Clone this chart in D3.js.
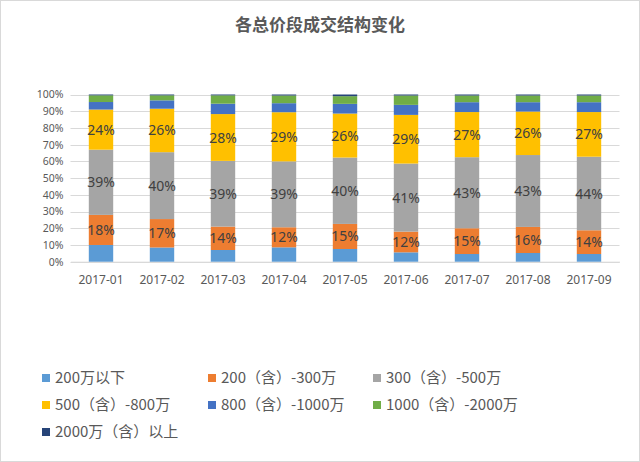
<!DOCTYPE html>
<html><head><meta charset="utf-8">
<script src="https://cdn.jsdelivr.net/npm/d3@7"></script>
<style>body{margin:0;background:#fff;} svg{display:block;font-family:"Noto Sans CJK SC","Noto Sans",sans-serif;}</style>
</head><body>
<svg id="c" width="640" height="462"></svg>
<script>
const months = ["2017-01","2017-02","2017-03","2017-04","2017-05","2017-06","2017-07","2017-08","2017-09"];
const seriesNames = ["200万以下","200（含）-300万","300（含）-500万","500（含）-800万","800（含）-1000万","1000（含）-2000万","2000万（含）以上"];
const s200below   = [10.0, 8.5, 7.0, 8.6, 7.6, 5.6, 4.6, 5.2, 4.6];
const s200to300   = [18.0, 17.0, 14.0, 12.0, 15.0, 12.4, 15.4, 15.6, 14.2];
const s300to500   = [39.0, 40.0, 39.3, 39.4, 39.7, 40.7, 42.5, 43.0, 44.0];
const s500to800   = [24.0, 26.0, 28.0, 29.4, 26.3, 29.1, 27.0, 26.0, 26.7];
const s800to1000  = [4.5, 5.0, 6.2, 5.4, 5.8, 6.0, 5.9, 5.6, 5.9];
const s1000to2000 = [4.0, 3.0, 5.0, 4.6, 4.6, 5.6, 4.0, 4.0, 4.0];
const s2000above  = [0.5, 0.5, 0.5, 0.6, 1.0, 0.6, 0.6, 0.6, 0.6];
const yTicks = [0,10,20,30,40,50,60,70,80,90,100];
const labeledSeries = [1,2,3];

const colors = ["#5B9BD5","#ED7D31","#A5A5A5","#FFC000","#4472C4","#70AD47","#264478"];
const allSeries = [s200below,s200to300,s300to500,s500to800,s800to1000,s1000to2000,s2000above];

const svg = d3.select("#c");
svg.append("rect").attr("x",0.5).attr("y",0.5).attr("width",639).attr("height",461)
  .attr("fill","#fff").attr("stroke","#d9d9d9");

svg.append("text").attr("x",320).attr("y",31).attr("text-anchor","middle")
  .attr("font-size",17).attr("font-weight","bold").attr("fill","#595959").text("各总价段成交结构变化");

const pLeft=70.5, pRight=619.5, pTop=94.5, pBottom=261.7;
const x = d3.scaleBand().domain(months).range([pLeft,pRight]).paddingInner(0.6).paddingOuter(0.3);
const y = d3.scaleLinear().domain([0,100]).range([pBottom,pTop]);

svg.append("g").selectAll("line").data(yTicks).join("line")
  .attr("x1",pLeft).attr("x2",pRight)
  .attr("y1",d=>Math.round(y(d))+0.5).attr("y2",d=>Math.round(y(d))+0.5)
  .attr("stroke","#d9d9d9").attr("stroke-width",1);

const yAxis = d3.axisLeft(y).tickValues(yTicks).tickFormat(d=>d+"%").tickSize(0).tickPadding(7);
const ga = svg.append("g").attr("transform",`translate(${pLeft},0)`).call(yAxis);
ga.select(".domain").remove();
ga.selectAll("text").attr("font-size",10.5).attr("fill","#595959").attr("font-family","'Noto Sans',sans-serif");

const xAxis = d3.axisBottom(x).tickSize(0).tickPadding(14);
const gx = svg.append("g").attr("transform",`translate(0,${pBottom})`).call(xAxis);
gx.select(".domain").attr("stroke","#d9d9d9");
gx.selectAll("text").attr("font-size",12).attr("fill","#595959").attr("font-family","'Noto Sans',sans-serif");

const table = months.map((m,i)=>{const o={month:m}; seriesNames.forEach((s,j)=>o[s]=allSeries[j][i]); return o;});
const stack = d3.stack().keys(seriesNames)(table);

const gb = svg.append("g");
stack.forEach((layer,j)=>{
  gb.append("g").selectAll("rect").data(layer).join("rect")
    .attr("x",d=>x(d.data.month)).attr("width",x.bandwidth())
    .attr("y",d=>y(d[1])).attr("height",d=>y(d[0])-y(d[1]))
    .attr("fill",colors[j]);
});
labeledSeries.forEach(j=>{
  gb.append("g").selectAll("text").data(stack[j]).join("text")
    .attr("x",d=>x(d.data.month)+x.bandwidth()/2)
    .attr("y",d=>(y(d[0])+y(d[1]))/2)
    .attr("dy","0.36em").attr("text-anchor","middle")
    .attr("font-size",14).attr("fill","#404040").attr("font-family","'Noto Sans',sans-serif")
    .text(d=>Math.round(d[1]-d[0])+"%");
});

const legX=[42,208,373], legY=[378,405,432];
const lg = svg.append("g");
seriesNames.forEach((s,i)=>{
  const cx=legX[i%3], cy=legY[Math.floor(i/3)];
  lg.append("rect").attr("x",cx).attr("y",cy-4).attr("width",8).attr("height",8).attr("fill",colors[i]);
  lg.append("text").attr("x",cx+13).attr("y",cy).attr("dy","0.36em")
    .attr("font-size",15).attr("fill","#595959").text(s);
});
</script>
</body></html>
